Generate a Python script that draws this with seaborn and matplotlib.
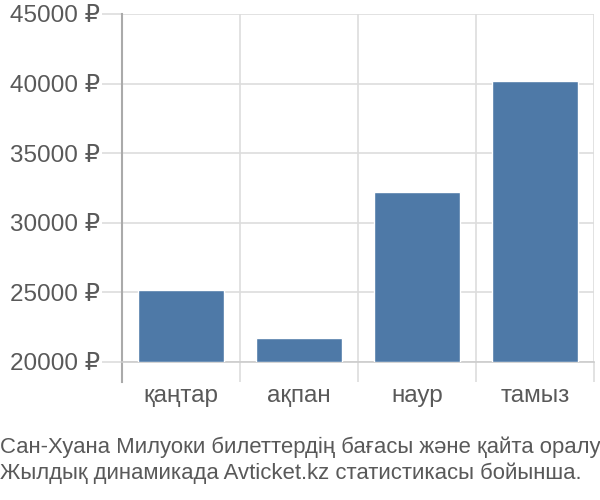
import matplotlib
matplotlib.use("Agg")
import matplotlib.pyplot as plt
import seaborn as sns
import pandas as pd
from matplotlib.ticker import FixedLocator, FuncFormatter

months = ["қаңтар", "ақпан", "наур", "тамыз"]
prices = [25120, 21730, 32190, 40190]
y_ticks = [20000, 25000, 30000, 35000, 40000, 45000]
caption = ["Сан-Хуана Милуоки билеттердің бағасы және қайта оралу",
           "Жылдық динамикада Avticket.kz статистикасы бойынша."]

sns.set_theme(style="white")
plt.rcParams['font.family'] = ['Liberation Sans', 'DejaVu Sans']

df = pd.DataFrame({"month": months, "price": prices})
base = y_ticks[0]
df["height"] = df["price"] - base

fig = plt.figure(figsize=(6, 5), dpi=100)
ax = fig.add_axes([122/600, 1-361.7/500, (594-122)/600, (361.7-14)/500])

sns.barplot(data=df, x="month", y="height", bottom=base, color="#4e79a7",
            saturation=1, width=0.73, ax=ax, zorder=3)

ax.set_xlim(-0.5, len(months) - 0.5)
ax.set_ylim(base, y_ticks[-1])
ax.set_xlabel("")
ax.set_ylabel("")

grid_c = "#dddddd"
lab_c = "#595959"
ax.yaxis.set_major_locator(FixedLocator(y_ticks))
ax.yaxis.set_major_formatter(FuncFormatter(lambda v, p: f"{int(v)} ₽"))
ax.xaxis.set_minor_locator(FixedLocator([i - 0.5 for i in range(len(months) + 1)]))
ax.grid(True, axis="y", which="major", color=grid_c, linewidth=1.2, zorder=0)
ax.grid(True, axis="x", which="minor", color=grid_c, linewidth=1.2, zorder=0)
ax.tick_params(axis="y", which="major", length=14.4, width=1.2, color=grid_c,
               labelsize=17.5, labelcolor=lab_c, pad=1.5, left=True)
ax.tick_params(axis="x", which="major", length=0, labelsize=17.5,
               labelcolor=lab_c, pad=17)
ax.tick_params(axis="x", which="minor", length=14.4, width=1.2, color=grid_c,
               bottom=True)

for s in ["top", "right"]:
    ax.spines[s].set_visible(False)
ax.spines["bottom"].set_color("#cccccc")
ax.spines["bottom"].set_linewidth(1.2)
ax.spines["left"].set_color("#aaaaaa")
ax.spines["left"].set_linewidth(1.5)
ax.spines["left"].set_bounds(base - 1460, y_ticks[-1])

fig.text(0, 1 - 453/500, caption[0], fontsize=15.9, color=lab_c,
         ha="left", va="baseline")
fig.text(0, 1 - 479/500, caption[1], fontsize=15.9, color=lab_c,
         ha="left", va="baseline")

fig.savefig("out.png", dpi=100)
